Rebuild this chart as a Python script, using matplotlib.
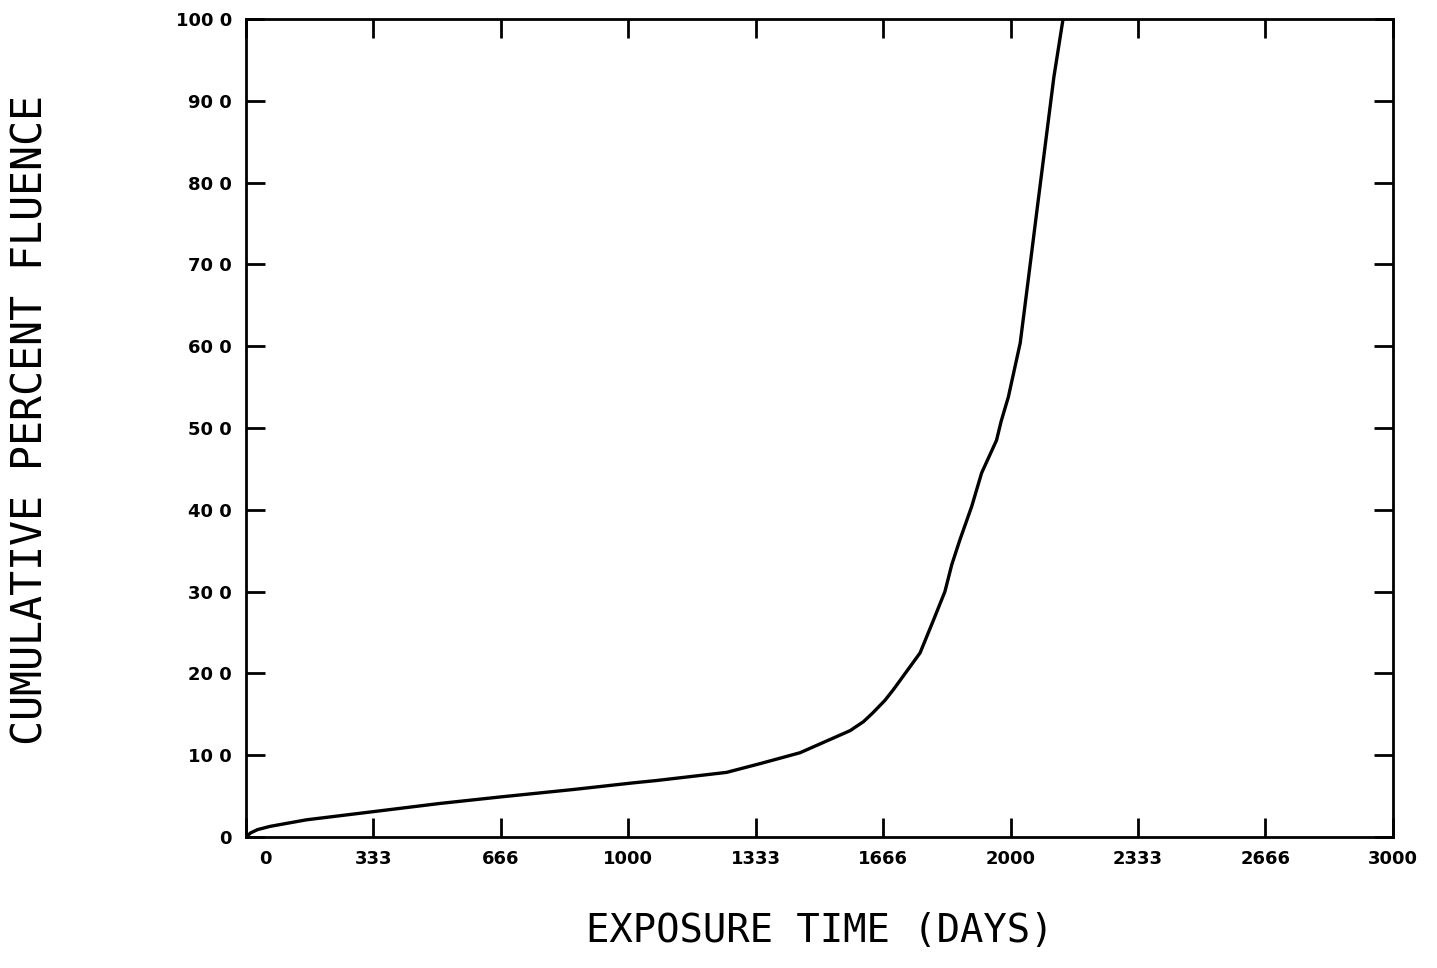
import numpy as np
from matplotlib import pyplot as plt
from matplotlib.transforms import ScaledTranslation

# curve
days = [0, 12, 30, 63, 158, 333, 507, 666, 855, 1009, 1073, 1257, 1347, 1449,
        1580, 1615, 1640, 1671, 1693, 1763, 1798, 1828, 1846, 1867, 1898,
        1924, 1963, 1975, 1994, 2025, 2047, 2069, 2091, 2113, 2137]
fluence = [0, 0.5, 0.9, 1.3, 2.1, 3.1, 4.1, 4.9, 5.8, 6.6, 6.9, 7.9, 9.0, 10.3,
           13.0, 14.1, 15.2, 16.7, 18.0, 22.5, 26.5, 30.0, 33.3, 36.3, 40.4,
           44.5, 48.5, 50.8, 53.8, 60.4, 68.5, 76.7, 84.8, 92.9, 100]

x_ticks = [0, 333, 666, 1000, 1333, 1666, 2000, 2333, 2666, 3000]
x_labels = ["0", "333", "666", "1000", "1333", "1666", "2000", "2333", "2666", "3000"]
y_ticks = [0, 10, 20, 30, 40, 50, 60, 70, 80, 90, 100]
y_labels = ["0", "10 0", "20 0", "30 0", "40 0", "50 0", "60 0", "70 0", "80 0", "90 0", "100 0"]

W, H = 1437, 968
fig = plt.figure(figsize=(W / 100, H / 100), dpi=100)
ax = fig.add_axes([246 / W, 1 - 837 / H, (1393 - 246) / W, (837 - 19) / H])

ax.plot(days, fluence, color="black", lw=2.4, solid_joinstyle="round")
ax.set_xlim(0, 3000)
ax.set_ylim(0, 100)

for s in ax.spines.values():
    s.set_linewidth(2)

ax.set_xticks(x_ticks)
ax.set_xticklabels(x_labels, fontsize=13, fontweight="bold")
ax.set_yticks(y_ticks)
ax.set_yticklabels(y_labels, fontsize=13, fontweight="bold")
ax.tick_params(axis="both", direction="in", length=14, width=2,
               top=True, right=True)
ax.tick_params(axis="x", pad=9)
ax.tick_params(axis="y", pad=10)

# the "0" label sits a bit right of the corner
lab0 = ax.get_xticklabels()[0]
lab0.set_transform(lab0.get_transform() + ScaledTranslation(0.19, 0, fig.dpi_scale_trans))

fig.text(820 / W, 1 - 942 / H, "EXPOSURE TIME (DAYS)", ha="center", va="baseline",
         fontsize=28, family="DejaVu Sans Mono")
fig.text(43 / W, 1 - 420 / H, "CUMULATIVE PERCENT FLUENCE", ha="center", va="baseline",
         rotation=90, rotation_mode="anchor", fontsize=30, family="DejaVu Sans Mono")

fig.savefig("out.png", dpi=100, facecolor="white")
